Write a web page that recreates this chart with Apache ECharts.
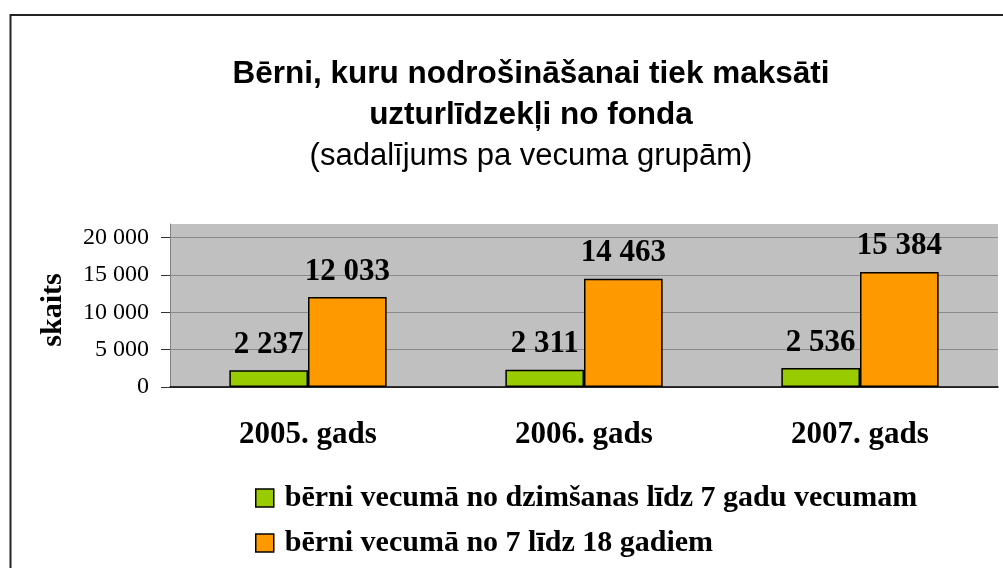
<!DOCTYPE html>
<html>
<head>
<meta charset="utf-8">
<script src="https://cdn.jsdelivr.net/npm/echarts@6/dist/echarts.min.js"></script>
<style>
  html, body { margin: 0; padding: 0; background: #fff; }
  #chart { width: 1003px; height: 568px; }
</style>
</head>
<body>
<div id="chart"></div>
<script>
// dati
var years = ['2005. gads', '2006. gads', '2007. gads'];
var youngKids = [2237, 2311, 2536];
var olderKids = [12033, 14463, 15384];
var seriesNames = [
    'bērni vecumā no dzimšanas līdz 7 gadu vecumam',
    'bērni vecumā no 7 līdz 18 gadiem'
];

// 12033 -> "12 033"
function fmt(v) {
    return String(v).replace(/\B(?=(\d{3})+(?!\d))/g, ' ');
}

var serif = '"Liberation Serif", "Times New Roman", serif';
var sans = '"Liberation Sans", Arial, sans-serif';

var legendText = {
    fontFamily: serif,
    fontSize: 30,
    fontWeight: 'bold',
    color: '#000',
    lineHeight: 32,
    padding: [0, 0, 0, 6]
};
// katrai rindai sava leģenda, lai tās būtu viena zem otras
function legendRow(name, top) {
    return {
        left: 255,
        top: top,
        padding: 0,
        itemWidth: 18,
        itemHeight: 18,
        icon: 'rect',
        itemStyle: { borderColor: '#000', borderWidth: 1.5 },
        textStyle: legendText,
        data: [name]
    };
}

var barLabel = {
    show: true,
    position: 'top',
    distance: 10,
    fontFamily: serif,
    fontSize: 31,
    fontWeight: 'bold',
    color: '#000',
    formatter: function (p) { return fmt(p.value); }
};

var myChart = echarts.init(document.getElementById('chart'));
myChart.setOption({
    animation: false,
    title: {
        text: 'Bērni, kuru nodrošināšanai tiek maksāti\nuzturlīdzekļi no fonda',
        subtext: '(sadalījums pa vecuma grupām)',
        left: 526,
        top: 49,
        textAlign: 'center',
        itemGap: 0,
        textStyle: {
            fontFamily: sans,
            fontSize: 31.5,
            fontWeight: 'bold',
            color: '#000',
            lineHeight: 41
        },
        subtextStyle: {
            fontFamily: sans,
            fontSize: 31,
            color: '#000',
            lineHeight: 40
        }
    },
    graphic: [{
        // ramis ap visu diagrammu
        type: 'rect',
        shape: { x: 10.5, y: 15, width: 1010, height: 600 },
        style: { fill: null, stroke: '#222', lineWidth: 2 },
        silent: true,
        z: -1
    }],
    legend: [
        legendRow(seriesNames[0], 482),
        legendRow(seriesNames[1], 527)
    ],
    grid: {
        left: 170,
        right: 5,
        top: 224,
        bottom: 181,
        show: true,
        backgroundColor: '#c0c0c0',
        borderWidth: 0
    },
    xAxis: {
        type: 'category',
        data: years,
        axisLine: { lineStyle: { color: '#000', width: 1.5 } },
        axisTick: { length: 9, lineStyle: { color: '#333' } },
        axisLabel: {
            margin: 32,
            fontFamily: serif,
            fontSize: 31,
            fontWeight: 'bold',
            color: '#000'
        }
    },
    yAxis: {
        type: 'value',
        min: 0,
        max: 21800,
        interval: 5000,
        name: 'skaits',
        nameLocation: 'middle',
        nameGap: 102,
        nameTextStyle: {
            fontFamily: serif,
            fontSize: 30,
            fontWeight: 'bold',
            color: '#000',
            padding: [0, 0, 0, -9]
        },
        axisLine: { show: true, lineStyle: { color: '#808080' } },
        axisTick: { show: true, length: 9, lineStyle: { color: '#333' } },
        axisLabel: {
            margin: 21,
            showMaxLabel: false,
            fontFamily: serif,
            fontSize: 24,
            color: '#000',
            formatter: function (v) { return v > 20000 ? '' : fmt(v); }
        },
        splitLine: {
            lineStyle: {
                color: ['#8a8a8a', '#8a8a8a', '#8a8a8a', '#8a8a8a', '#8a8a8a', '#c0c0c0'],
                width: 1
            }
        }
    },
    series: [
        {
            name: seriesNames[0],
            type: 'bar',
            data: youngKids,
            barGap: '0%',
            barCategoryGap: '43%',
            itemStyle: { color: '#99cc00', borderColor: '#000', borderWidth: 1.5 },
            label: barLabel
        },
        {
            name: seriesNames[1],
            type: 'bar',
            data: olderKids,
            itemStyle: { color: '#ff9900', borderColor: '#000', borderWidth: 1.5 },
            label: barLabel
        }
    ]
});
</script>
</body>
</html>
